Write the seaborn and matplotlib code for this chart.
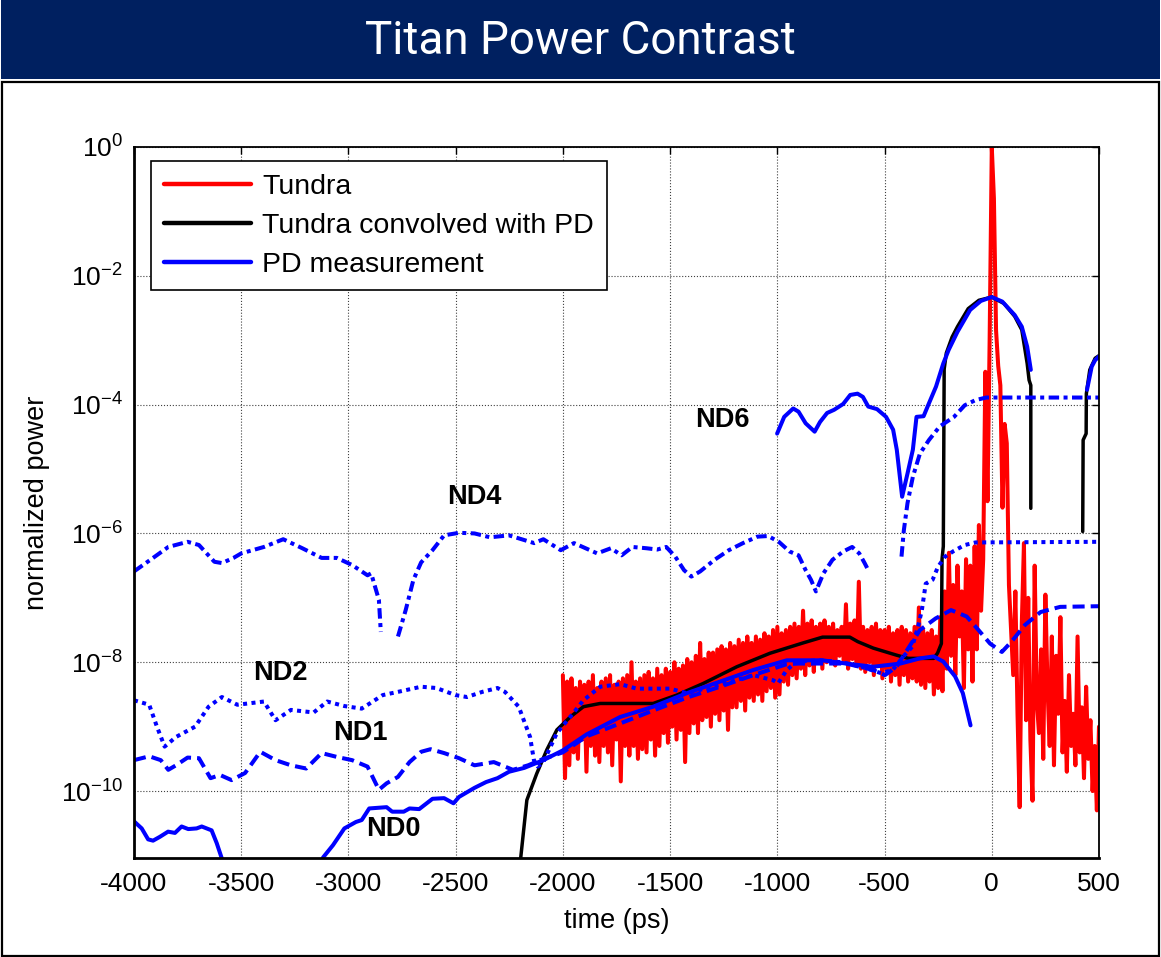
import numpy as np
import pandas as pd
import seaborn as sns
import matplotlib.pyplot as plt
from matplotlib.lines import Line2D
from matplotlib.patches import Rectangle
from matplotlib.ticker import FixedLocator, NullLocator

# ---- data (values are log10 of normalized power) ----
# Tundra trace, sampled every 10 ps from -2000 to 500 ps
tundra_t = np.arange(-2000, 501, 10)
tundra_log = [
    -8.2, -9.8, -8.3, -9.6, -8.25, -9.4, -8.4, -9.5, -8.3, -9.2,
    -8.35, -9.7, -8.3, -9.3, -8.2, -9.45, -8.4, -9.55, -8.3, -9.3,
    -8.25, -9.4, -8.2, -9.6, -8.35, -9.2, -8.3, -9.85, -8.25, -9.3,
    -8.2, -9.45, -8.0, -9.3, -8.3, -9.5, -8.25, -9.35, -8.2, -9.4,
    -8.15, -9.2, -8.25, -9.45, -8.1, -9.3, -8.2, -9.1, -8.1, -9.25,
    -8.15, -9.0, -8.0, -9.2, -8.1, -9.05, -8.05, -9.55, -7.95, -9.1,
    -8.0, -8.95, -7.9, -9.1, -7.7, -8.9, -7.95, -8.85, -7.85, -9.0,
    -7.85, -8.8, -7.8, -8.9, -7.75, -8.75, -7.8, -9.05, -7.7, -8.7,
    -7.75, -8.7, -7.65, -8.6, -7.7, -8.75, -7.6, -8.55, -7.7, -8.6,
    -7.6, -8.5, -7.65, -8.6, -7.55, -8.45, -7.6, -8.4, -7.5, -8.55,
    -7.45, -8.5, -7.55, -8.3, -7.5, -8.35, -7.45, -8.2, -7.4, -8.25,
    -7.45, -8.1, -7.2, -8.2, -7.4, -8.05, -7.35, -8.15, -7.45, -8.0,
    -7.4, -8.1, -7.35, -8.0, -7.45, -7.95, -7.4, -8.05, -7.5, -7.9,
    -7.45, -8.0, -7.1, -8.1, -7.4, -7.95, -7.35, -8.05, -6.75, -8.1,
    -7.45, -8.15, -7.5, -8.0, -7.45, -8.2, -7.4, -8.05, -7.5, -8.25,
    -7.5, -8.1, -7.45, -8.3, -7.55, -8.2, -7.5, -8.35, -7.45, -8.2,
    -7.5, -8.3, -7.55, -8.25, -7.45, -8.3, -7.15, -8.35, -7.5, -8.4,
    -7.55, -8.3, -7.5, -8.5, -7.6, -8.4, -7.3, -8.45, -6.9, -8.1,
    -6.3, -7.9, -6.8, -8.2, -6.5, -7.6, -6.9, -8.4, -6.4, -7.8,
    -6.5, -8.3, -6.2, -7.8, -5.87, -7.2, -6.4, -3.49, -5.5, -3.0,
    0.0, -0.8, -2.85, -3.4, -3.7, -5.6, -4.3, -4.6, -6.8, -7.5,
    -8.2, -6.9, -8.8, -10.25, -7.4, -6.15, -8.9, -7.0, -9.2, -10.15,
    -6.5, -8.6, -9.1, -7.8, -9.5, -6.95, -8.4, -9.3, -7.6, -9.6,
    -7.9, -8.8, -7.3, -9.4, -8.6, -9.7, -8.2, -9.3, -8.8, -9.6,
    -7.6, -9.4, -8.7, -9.8, -8.38, -9.5, -8.9, -10.0, -9.3, -10.3,
    -9.0,
]

# Tundra convolved with PD
conv_t = [-2205, -2168, -2122, -2075, -2028, -1966, -1904, -1826, -1579, -1469,
          -1346, -1189, -1034, -880, -789, -662, -625, -553, -444, -389,
          -335, -271, -253, -235, -232, -226, -222, -212, -185, -160,
          -110, -60, 0, 57, 107, 140, 165, 174, 182, 182,
          np.nan, 424, 426, 440, 441, 457, 482, 500]
conv_log = [-11.3, -10.14, -9.73, -9.36, -9.05, -8.85, -8.69, -8.64, -8.64, -8.51,
            -8.33, -8.07, -7.86, -7.70, -7.61, -7.61, -7.68, -7.78, -7.89, -7.94,
            -7.94, -7.94, -7.86, -7.71, -6.4, -6.2, -3.45, -3.2, -2.95, -2.79,
            -2.51, -2.38, -2.33, -2.43, -2.63, -2.84, -3.36, -3.62, -3.7, -5.61,
            np.nan, -5.97, -4.55, -4.45, -3.83, -3.46, -3.28, -3.24]

# PD measurements
nd0_t = [-4000, -3964, -3934, -3911, -3879, -3841, -3809, -3778, -3747, -3708,
         -3684, -3638, -3614, -3591, -3570, np.nan,
         -3140, -3118, -3072, -3019, -2965, -2938, -2903, -2822, -2796, -2742,
         -2715, -2670, -2608, -2554, -2510, -2484, -2412, -2358, -2305, -2251,
         -2180, -2091, -2001, -1889, -1733, -1579, -1422, -1267, -1112, -956,
         -898, -789, -680, -553, -426, -335, -271, -226, -171, -135, -99]
nd0_log = [-10.47, -10.58, -10.75, -10.77, -10.71, -10.63, -10.65, -10.55, -10.59, -10.58,
           -10.55, -10.61, -10.81, -11.04, -11.3, np.nan,
           -11.3, -11.03, -10.84, -10.58, -10.48, -10.45, -10.27, -10.25, -10.32, -10.32,
           -10.27, -10.28, -10.12, -10.11, -10.19, -10.09, -9.95, -9.86, -9.80, -9.70,
           -9.64, -9.52, -9.37, -9.12, -8.85, -8.69, -8.48, -8.30, -8.12, -7.97,
           -7.97, -7.97, -8.02, -8.07, -8.02, -7.94, -7.91, -7.99, -8.22, -8.48, -8.98]

nd1_t = [-4000, -3929, -3875, -3840, -3804, -3750, -3697, -3643, -3599, -3545,
         -3482, -3411, -3340, -3268, -3197, -3125, -3054, -2983, -2911, -2858,
         -2822, -2769, -2715, -2661, -2617, -2554, -2484, -2412, -2322, -2233,
         -2162, -2091, -2001, -1889, -1733, -1579, -1422, -1267, -1112, -956,
         -898, -680, -553, -498, -444, -389, -335, -262, -190, -117,
         -62, -8, 47, 92, 155, 228, 319, 500]
nd1_log = [-9.52, -9.46, -9.52, -9.67, -9.60, -9.48, -9.49, -9.80, -9.75, -9.83,
           -9.72, -9.39, -9.52, -9.60, -9.65, -9.41, -9.47, -9.52, -9.62, -9.98,
           -9.88, -9.78, -9.55, -9.39, -9.35, -9.41, -9.49, -9.60, -9.55, -9.67,
           -9.60, -9.50, -9.40, -9.15, -8.95, -8.75, -8.55, -8.38, -8.20, -8.03,
           -8.02, -8.02, -8.12, -8.20, -8.07, -7.78, -7.50, -7.32, -7.19, -7.29,
           -7.50, -7.71, -7.84, -7.68, -7.42, -7.22, -7.14, -7.13]

nd2_t = [-4000, -3929, -3893, -3857, -3804, -3715, -3652, -3590, -3518, -3394,
         -3340, -3268, -3162, -3099, -3019, -2938, -2840, -2769, -2661, -2590,
         -2501, -2447, -2376, -2305, -2270, -2206, -2153, -2135, -2117, -2091,
         -2028, -1966, -1904, -1826, -1733, -1655, -1579, -1500, -1422, -1267,
         -1112, -1019, -997, -956, -909, -800, -700, -607, -516, -462,
         -407, -371, -344, -326, -308, -276, -251, -218, -176, -126, -76, 500]
nd2_log = [-8.59, -8.66, -9.0, -9.31, -9.16, -9.0, -8.69, -8.54, -8.66, -8.61,
           -8.90, -8.74, -8.78, -8.61, -8.68, -8.72, -8.51, -8.46, -8.38, -8.40,
           -8.51, -8.54, -8.46, -8.40, -8.46, -8.69, -9.16, -9.52, -9.62, -9.55,
           -9.10, -8.85, -8.59, -8.38, -8.34, -8.41, -8.41, -8.41, -8.48, -8.35,
           -8.20, -8.28, -8.33, -8.12, -7.99, -7.97, -8.0, -8.07, -8.17, -8.12,
           -7.89, -7.76, -7.45, -7.19, -6.78, -6.72, -6.52, -6.36, -6.27, -6.18, -6.14, -6.13]

nd4_t = [-4000, -3911, -3840, -3750, -3697, -3625, -3590, -3536, -3500, -3394,
         -3304, -3215, -3125, -3054, -2983, -2911, -2894, -2858, -2849, np.nan,
         -2769, -2733, -2697, -2661, -2608, -2554, -2484, -2412, -2340, -2251,
         -2134, -2091, -2010, -1948, -1840, -1776, -1726, -1676, -1610, -1560,
         -1518, -1476, -1435, -1401, -1360, -1293, -1226, -1160, -1093, -1043,
         -993, -943, -901, -868, -843, -820, -785, -743, -693, -651,
         -618, -593, -576, np.nan,
         -421, -410, -393, -368, -335, -293, -243, -176, -126, -76, -26, 500]
nd4_log = [-6.59, -6.38, -6.21, -6.13, -6.18, -6.44, -6.46, -6.38, -6.31, -6.21,
           -6.09, -6.23, -6.38, -6.38, -6.49, -6.65, -6.62, -7.03, -7.53, np.nan,
           -7.60, -7.19, -6.72, -6.45, -6.26, -6.03, -5.99, -6.0, -6.06, -6.03,
           -6.15, -6.09, -6.26, -6.15, -6.31, -6.23, -6.34, -6.21, -6.23, -6.25,
           -6.21, -6.36, -6.57, -6.67, -6.59, -6.41, -6.26, -6.15, -6.05, -6.04,
           -6.13, -6.28, -6.34, -6.57, -6.72, -6.9, -6.62, -6.41, -6.28, -6.21,
           -6.31, -6.46, -6.57, np.nan,
           -6.36, -5.95, -5.53, -5.12, -4.76, -4.55, -4.34, -4.19, -4.01, -3.93, -3.89, -3.89]

nd6_t = [-1001, -968, -926, -901, -868, -826, -801, -768, -735, -693,
         -660, -626, -601, -576, -535, -493, -460, -443, -418, -393,
         -368, -351, -318, -293, -260, -226, -201, -160, -101, -51,
         0, 49, 107, 140, 165, 182, np.nan, 444, 466, 482, 500]
nd6_log = [-4.45, -4.19, -4.06, -4.11, -4.29, -4.42, -4.27, -4.13, -4.08, -3.99,
           -3.85, -3.83, -3.88, -4.03, -4.07, -4.19, -4.39, -4.70, -5.43, -5.07,
           -4.70, -4.19, -4.18, -3.98, -3.72, -3.36, -3.15, -2.87, -2.53, -2.39,
           -2.33, -2.40, -2.61, -2.79, -3.10, -3.46, np.nan, -3.77, -3.41, -3.31, -3.25]

nd_labels = ['ND0', 'ND1', 'ND2', 'ND4', 'ND6']
nd_label_t = [-2792, -2946, -3319, -2414, -1257]
nd_label_log = [-10.59, -9.10, -8.17, -5.43, -4.24]

legend_labels = ['Tundra', 'Tundra convolved with PD', 'PD measurement']
x_ticks = list(range(-4000, 501, 500))
y_tick_exp = [0, -2, -4, -6, -8, -10]

# ---- style ----
sns.set_theme(style='white')
plt.rcParams['font.family'] = ['Liberation Sans', 'DejaVu Sans']
plt.rcParams['mathtext.fontset'] = 'custom'
plt.rcParams['mathtext.rm'] = 'Liberation Sans'
plt.rcParams['mathtext.it'] = 'Liberation Sans:italic'
plt.rcParams['axes.unicode_minus'] = False
for key in ['text.color', 'axes.labelcolor', 'xtick.color', 'ytick.color']:
    plt.rcParams[key] = 'black'

RED, BLACK, BLUE = '#ff0000', '#000000', '#0000ff'
DASHED = (0, (3.0, 1.5))
DOTTED = (0, (1.0, 1.1))
DASHDOT = (0, (2.6, 1.1, 1.0, 1.1))

fig = plt.figure(figsize=(11.61, 9.57), dpi=100)

# title banner and panel frame
fig.patches.append(Rectangle((0.001, 0.9175), 0.998, 0.0825, transform=fig.transFigure,
                             facecolor='#002060', edgecolor='none'))
fig.patches.append(Rectangle((0.0017, 0.0015), 0.9966, 0.9125, transform=fig.transFigure,
                             fill=False, edgecolor='black', linewidth=1.6))
fig.text(0.5, 0.957, 'Titan Power Contrast', color='white', fontsize=33,
         ha='center', va='center', family=['Roboto', 'DejaVu Sans'])

ax = fig.add_axes([0.1154, 0.1034, 0.8312, 0.7430])
ax.set_yscale('log')


def draw(t, logp, **kw):
    df = pd.DataFrame({'t': t, 'p': np.power(10.0, np.asarray(logp, dtype=float))})
    gap = df['p'].isna().cumsum()
    ok = df['p'].notna()
    for _, seg in df[ok].groupby(gap[ok]):
        sns.lineplot(data=seg, x='t', y='p', ax=ax, sort=False, estimator=None, **kw)


assert len(tundra_t) == len(tundra_log)
draw(tundra_t, tundra_log, color=RED, linewidth=2.9)
draw(conv_t, conv_log, color=BLACK, linewidth=2.5)
draw(nd0_t, nd0_log, color=BLUE, linewidth=2.9)
draw(nd1_t, nd1_log, color=BLUE, linewidth=2.9, linestyle=DASHED)
draw(nd2_t, nd2_log, color=BLUE, linewidth=2.9, linestyle=DOTTED)
draw(nd4_t, nd4_log, color=BLUE, linewidth=2.9, linestyle=DASHDOT)
draw(nd6_t, nd6_log, color=BLUE, linewidth=2.9)

for lab, t, lp in zip(nd_labels, nd_label_t, nd_label_log):
    ax.text(t, 10 ** lp, lab, fontsize=19.5, fontweight='bold', color='black',
            ha='center', va='center')

ax.set_xlim(-4000, 500)
ax.set_ylim(10 ** -11.04, 1)
ax.set_xticks(x_ticks)
ax.yaxis.set_major_locator(FixedLocator([10.0 ** e for e in y_tick_exp]))
ax.yaxis.set_minor_locator(NullLocator())
ax.tick_params(direction='in', length=5, width=1, top=True, right=True,
               labelsize=19, colors='black')
ax.tick_params(axis='x', pad=10)
ax.tick_params(axis='y', pad=8)
ax.grid(True, which='major', linestyle=':', color='#404040', linewidth=0.8)
for s in ax.spines.values():
    s.set_color('black')
    s.set_linewidth(1.3)
ax.spines['left'].set_linewidth(2.0)
ax.spines['bottom'].set_linewidth(2.0)

ax.set_xlabel('time (ps)', fontsize=19.5)
ax.set_ylabel('normalized power', fontsize=19.5)
ax.xaxis.set_label_coords(0.5, -0.07)
ax.yaxis.set_label_coords(-0.087, 0.5)

handles = [Line2D([], [], color=RED, lw=3.2),
           Line2D([], [], color=BLACK, lw=3.2),
           Line2D([], [], color=BLUE, lw=3.2)]
leg = ax.legend(handles, legend_labels, loc='upper left', bbox_to_anchor=(0.0176, 0.980),
                borderaxespad=0, fontsize=20.5, frameon=True, fancybox=False,
                framealpha=1, handlelength=3.05, handletextpad=0.4,
                labelspacing=0.45, borderpad=0.45)
leg.get_frame().set_edgecolor('black')
leg.get_frame().set_linewidth(1.2)

fig.savefig('out.png', dpi=100)
plt.close(fig)
